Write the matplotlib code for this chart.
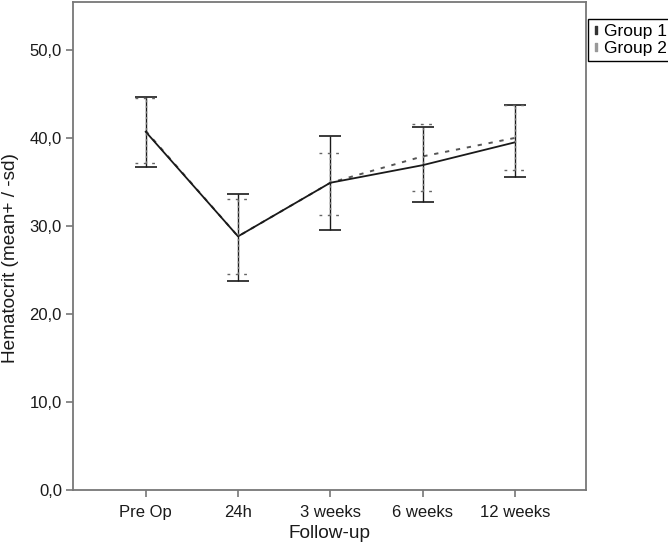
import matplotlib
matplotlib.use("Agg")
import matplotlib.pyplot as plt
from matplotlib.lines import Line2D
import numpy as np

categories = ["Pre Op", "24h", "3 weeks", "6 weeks", "12 weeks"]
g1_mean = [40.7, 28.8, 34.9, 36.9, 39.5]
g1_upper = [44.7, 33.6, 40.2, 41.2, 43.7]
g1_lower = [36.7, 23.7, 29.5, 32.7, 35.5]
g2_mean = [40.8, 28.8, 34.9, 37.9, 40.0]
g2_upper = [44.6, 33.0, 38.3, 41.6, 43.8]
g2_lower = [37.2, 24.5, 31.2, 34.0, 36.4]
y_ticks = [0, 10, 20, 30, 40, 50]
y_ticklabels = ["0,0", "10,0", "20,0", "30,0", "40,0", "50,0"]

plt.rcParams['font.family'] = ['Liberation Sans', 'DejaVu Sans']

fig = plt.figure(figsize=(6.68, 5.44), dpi=100)
ax = fig.add_axes([73/668, 1-489.5/544, (586-73)/668, (489.5-1.7)/544])

x = np.arange(len(categories))
g1m = np.array(g1_mean); g2m = np.array(g2_mean)
g1_err = [g1m - np.array(g1_lower), np.array(g1_upper) - g1m]
g2_err = [g2m - np.array(g2_lower), np.array(g2_upper) - g2m]

# Group 1: solid
ax.errorbar(x, g1m, yerr=g1_err, color='#1a1a1a', lw=1.3, elinewidth=1.0,
            capsize=8, capthick=1.2, zorder=3)
# Group 2: dotted
ax.plot(x, g2m, color='#555555', lw=1.4, ls=(0, (2.2, 3.5)), zorder=2)
ax.vlines(x, g2_lower, g2_upper, color='#777777', lw=1.0, ls=(0, (1.5, 2.5)), zorder=4)
cw = 0.12
ax.hlines(g2_upper, x - cw, x + cw, color='#666666', lw=1.0, ls=(0, (2, 4)), zorder=4)
ax.hlines(g2_lower, x - cw, x + cw, color='#666666', lw=1.0, ls=(0, (2, 4)), zorder=4)

ax.set_xlim(-0.788, 4.77)
ax.set_ylim(0, 55.5)
ax.set_xticks(x)
ax.set_xticklabels(categories, fontsize=12)
ax.set_yticks(y_ticks)
ax.set_yticklabels(y_ticklabels, fontsize=12)

for s in ax.spines.values():
    s.set_color('#777777')
    s.set_linewidth(1.3)
ax.tick_params(axis='both', colors='#777777', length=5, width=1.2, labelcolor='#1a1a1a')
ax.tick_params(axis='x', pad=6)
ax.tick_params(axis='y', pad=3)

ax.set_xlabel("Follow-up", fontsize=13.7, color='#1a1a1a', labelpad=4)
ax.set_ylabel("Hematocrit (mean+ / -sd)", fontsize=13.7, color='#1a1a1a')
ax.yaxis.set_label_coords(-0.105, 0.475)

handles = [Line2D([], [], ls='none', marker=r'$\mathrm{I}$', color='#333333', markersize=6),
           Line2D([], [], ls='none', marker=r'$\mathrm{I}$', color='#999999', markersize=6)]
leg = fig.legend(handles, ["Group 1", "Group 2"], loc='upper left',
                 bbox_to_anchor=(588/668, 1-19/544), borderaxespad=0,
                 fontsize=12.5, frameon=True, fancybox=False, edgecolor='black',
                 framealpha=1, handlelength=0.3, handletextpad=0.35,
                 borderpad=0.3, labelspacing=0.1)
leg.get_frame().set_linewidth(1.0)

fig.savefig("out.png", dpi=100)
